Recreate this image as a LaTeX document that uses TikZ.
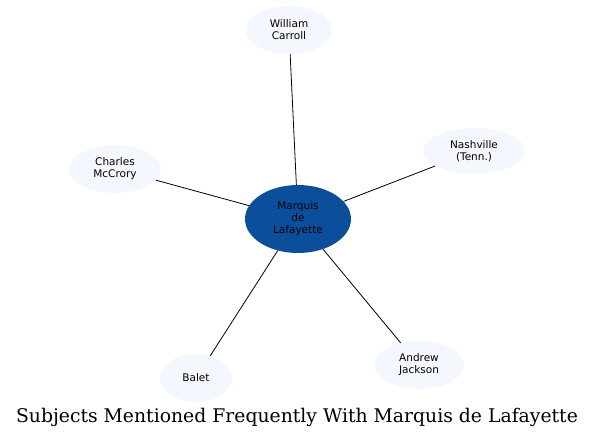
\documentclass[tikz,border=0pt]{standalone}
\usepackage{fontspec}
\setmainfont{DejaVu Serif}
\setsansfont{DejaVu Sans}
\usetikzlibrary{shapes.geometric}
\definecolor{hubblue}{HTML}{0B4F9C}
\definecolor{paleblue}{HTML}{F4F8FE}

\begin{document}
\begin{tikzpicture}[
        x=1pt, y=-1pt,
        every node/.style={font=\sffamily\fontsize{10.5}{12}\selectfont, align=center},
        hubnode/.style={ellipse, fill=hubblue, minimum width=106pt, minimum height=68pt, inner sep=0pt},
        subjectnode/.style={ellipse, fill=paleblue, minimum height=48pt, inner sep=0pt},
        link/.style={-, black, line width=0.8pt}
    ]
        \useasboundingbox (0,0) rectangle (595,439);

        % Central subject
        \node[hubnode] (lafayette) at (298,219) {Marquis\\de\\Lafayette};

        % Related subjects
        \node[subjectnode, minimum width=86pt] (carroll) at (289,30) {William\\Carroll};
        \node[subjectnode, minimum width=102pt, minimum height=46pt] (nashville) at (474,151) {Nashville\\(Tenn.)};
        \node[subjectnode, minimum width=92pt] (mccrory) at (115,169) {Charles\\McCrory};
        \node[subjectnode, minimum width=72pt] (balet) at (196,378) {Balet};
        \node[subjectnode, minimum width=90pt] (jackson) at (419,365) {Andrew\\Jackson};

        % Links to the centre
        \draw[link] (lafayette) -- (carroll);
        \draw[link] (lafayette) -- (nashville);
        \draw[link] (lafayette) -- (mccrory);
        \draw[link] (lafayette) -- (balet);
        \draw[link] (lafayette) -- (jackson);

        % Title
        \node[font=\rmfamily\fontsize{18.8}{22}\selectfont] (title) at (297,417) {Subjects Mentioned Frequently With Marquis de Lafayette};

    \end{tikzpicture}
\end{document}
